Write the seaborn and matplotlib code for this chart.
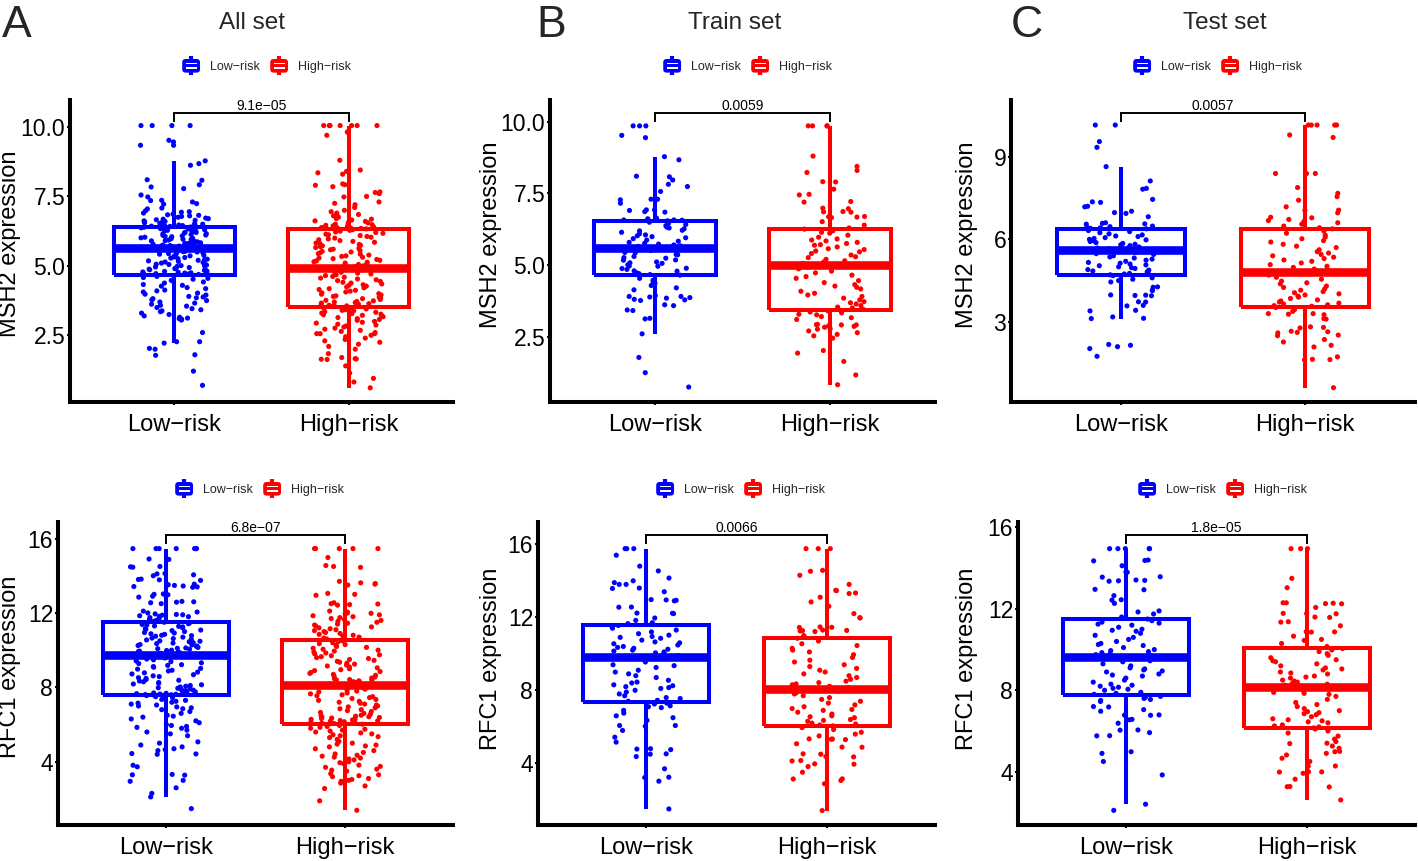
import numpy as np
import pandas as pd
import matplotlib
matplotlib.use("Agg")
import matplotlib.pyplot as plt
import seaborn as sns
from matplotlib.legend_handler import HandlerBase
from matplotlib.patches import Patch, Rectangle, FancyBboxPatch
from matplotlib.lines import Line2D

# ---- data ----
groups = ["Low\u2212risk", "High\u2212risk"]
colors = ["#0000FF", "#FF0000"]
set_titles = ["All set", "Train set", "Test set"]
panel_letters = ["A", "B", "C"]
genes = ["MSH2", "RFC1"]
msh2_pvalues = ["9.1e\u221205", "0.0059", "0.0057"]
rfc1_pvalues = ["6.8e\u221207", "0.0066", "1.8e\u221205"]
msh2_ticks = [[2.5, 5.0, 7.5, 10.0], [2.5, 5.0, 7.5, 10.0], [3, 6, 9]]
msh2_ticklabels = [["2.5", "5.0", "7.5", "10.0"], ["2.5", "5.0", "7.5", "10.0"], ["3", "6", "9"]]
rfc1_ticks = [4, 8, 12, 16]
rfc1_ticklabels = ["4", "8", "12", "16"]

all_msh2_low = [
    10.05, 10.05, 10.05, 10.05, 9.52, 9.46, 9.34, 9.34, 8.78, 8.68, 8.62, 8.1, 8.08, 7.92, 7.84, 7.78, 7.55, 7.48,
    7.36, 7.35, 7.3, 7.24, 7.22, 7.08, 7.05, 6.98, 6.95, 6.93, 6.9, 6.86, 6.84, 6.82, 6.8, 6.78, 6.75, 6.72, 6.7,
    6.68, 6.66, 6.64, 6.62, 6.6, 6.58, 6.56, 6.55, 6.53, 6.52, 6.5, 6.48, 6.47, 6.45, 6.44, 6.43, 6.42,
    6.4, 6.39, 6.37, 6.36, 6.34, 6.33, 6.31, 6.3, 6.28, 6.26, 6.25, 6.23, 6.21, 6.2, 6.18, 6.16, 6.15, 6.13, 6.11,
    6.1, 6.08, 6.06, 6.05, 6.03, 6.01, 6.0, 5.98, 5.96, 5.95, 5.93, 5.91, 5.9, 5.88, 5.86, 5.85, 5.83, 5.81, 5.8,
    5.78, 5.76, 5.75, 5.73, 5.72, 5.71, 5.7, 5.69, 5.68, 5.67, 5.66, 5.66, 5.65, 5.64, 5.63, 5.63,
    5.62, 5.6, 5.58, 5.56, 5.55, 5.53, 5.51, 5.5, 5.48, 5.46, 5.44, 5.42, 5.4, 5.38, 5.36, 5.34, 5.32, 5.3, 5.28,
    5.26, 5.24, 5.22, 5.2, 5.18, 5.16, 5.14, 5.12, 5.1, 5.08, 5.06, 5.05, 5.03, 5.01, 5.0, 4.98, 4.96, 4.94, 4.92,
    4.9, 4.88, 4.86, 4.84, 4.83, 4.81, 4.8, 4.78, 4.77, 4.75, 4.74, 4.73, 4.72, 4.71, 4.7, 4.69,
    4.67, 4.62, 4.58, 4.55, 4.52, 4.48, 4.45, 4.42, 4.38, 4.33, 4.3, 4.27, 4.22, 4.18, 4.13, 4.1, 4.06, 4.02, 3.98,
    3.95, 3.9, 3.88, 3.85, 3.82, 3.78, 3.75, 3.7, 3.66, 3.62, 3.58, 3.55, 3.5, 3.46, 3.42, 3.38, 3.35, 3.3, 3.25,
    3.2, 3.15, 3.12, 3.1, 3.08, 3.05, 2.6, 2.27, 2.27, 2.22, 2.03, 2.0, 1.8, 1.78, 1.21, 0.7,
]
all_msh2_high = [
    10.05, 10.05, 10.05, 10.05, 10.05, 10.05, 10.05, 9.82, 9.8, 9.7, 8.8, 8.45, 8.4, 8.35, 8.3, 7.95, 7.92, 7.9,
    7.85, 7.66, 7.64, 7.6, 7.5, 7.48, 7.3, 7.25, 7.2, 7.1, 7.0, 6.95, 6.9, 6.85, 6.8, 6.78, 6.75, 6.7, 6.68, 6.65,
    6.62, 6.6, 6.58, 6.55, 6.52, 6.5, 6.48, 6.46, 6.44, 6.42, 6.4, 6.38, 6.37, 6.36, 6.35, 6.35,
    6.33, 6.3, 6.28, 6.25, 6.22, 6.2, 6.17, 6.14, 6.12, 6.09, 6.06, 6.03, 6.0, 5.97, 5.94, 5.91, 5.88, 5.85, 5.82,
    5.8, 5.77, 5.74, 5.72, 5.69, 5.66, 5.63, 5.6, 5.58, 5.55, 5.52, 5.5, 5.47, 5.44, 5.42, 5.39, 5.36, 5.34, 5.31,
    5.28, 5.26, 5.23, 5.2, 5.18, 5.15, 5.13, 5.1, 5.08, 5.05, 5.03, 5.0, 4.98, 4.96, 4.94, 4.92,
    4.9, 4.87, 4.85, 4.82, 4.8, 4.77, 4.74, 4.71, 4.68, 4.65, 4.62, 4.59, 4.56, 4.53, 4.5, 4.47, 4.44, 4.41, 4.38,
    4.35, 4.32, 4.3, 4.27, 4.24, 4.21, 4.18, 4.15, 4.12, 4.09, 4.06, 4.03, 4.0, 3.98, 3.95, 3.92, 3.9, 3.87, 3.84,
    3.82, 3.79, 3.76, 3.74, 3.72, 3.7, 3.68, 3.66, 3.64, 3.62, 3.6, 3.58, 3.57, 3.56, 3.55, 3.53,
    3.5, 3.48, 3.45, 3.42, 3.4, 3.38, 3.35, 3.33, 3.3, 3.28, 3.26, 3.24, 3.22, 3.2, 3.17, 3.14, 3.1, 3.07, 3.04,
    3.0, 2.97, 2.94, 2.9, 2.87, 2.84, 2.8, 2.76, 2.72, 2.68, 2.64, 2.6, 2.56, 2.56, 2.56, 2.5, 2.45, 2.4, 2.35,
    2.3, 2.25, 2.18, 2.1, 2.0, 1.84, 1.7, 1.66, 1.65, 1.64, 1.63, 1.4, 1.14, 0.95, 0.82, 0.61,
]
train_msh2_low = [
    9.85, 9.85, 9.85, 9.52, 9.44, 8.78, 8.67, 8.1, 8.08, 7.97, 7.82, 7.74, 7.57, 7.3, 7.3, 7.28, 7.16, 6.93, 6.93,
    6.91, 6.87, 6.85, 6.64, 6.62, 6.58, 6.58, 6.57,
    6.55, 6.5, 6.46, 6.42, 6.38, 6.33, 6.3, 6.27, 6.22, 6.2, 6.15, 6.1, 6.06, 6.03, 6.0, 5.96, 5.93, 5.88, 5.84,
    5.8, 5.77, 5.74, 5.71, 5.68, 5.66, 5.63, 5.61,
    5.6, 5.58, 5.52, 5.51, 5.45, 5.44, 5.38, 5.37, 5.31, 5.27, 5.25, 5.19, 5.18, 5.12, 5.09, 5.07, 5.02, 4.98,
    4.97, 4.9, 4.89, 4.86, 4.81, 4.8, 4.74, 4.71, 4.68,
    4.66, 4.55, 4.48, 4.42, 4.38, 4.3, 4.22, 4.15, 3.95, 3.92, 3.92, 3.9, 3.88, 3.86, 3.82, 3.8, 3.78, 3.63, 3.6,
    3.45, 3.43, 3.16, 3.14, 2.62, 1.8, 1.27, 0.77,
]
train_msh2_high = [
    9.85, 9.85, 9.85, 9.85, 8.8, 8.44, 8.3, 8.23, 7.91, 7.9, 7.65, 7.47, 7.45, 7.22, 7.2, 6.99, 6.97, 6.87, 6.86,
    6.85, 6.7, 6.69, 6.68, 6.66, 6.52, 6.4, 6.3,
    6.26, 6.2, 6.15, 6.12, 6.05, 5.98, 5.92, 5.88, 5.85, 5.8, 5.76, 5.72, 5.7, 5.64, 5.58, 5.55, 5.5, 5.47, 5.41,
    5.36, 5.3, 5.27, 5.21, 5.16, 5.12, 5.07, 5.02,
    5.0, 4.95, 4.88, 4.8, 4.74, 4.66, 4.61, 4.55, 4.47, 4.4, 4.33, 4.28, 4.24, 4.18, 4.1, 4.03, 3.97, 3.92, 3.86,
    3.8, 3.74, 3.7, 3.66, 3.6, 3.55, 3.52, 3.47,
    3.42, 3.38, 3.35, 3.3, 3.28, 3.22, 3.18, 3.12, 2.95, 2.94, 2.93, 2.93, 2.9, 2.88, 2.85, 2.8, 2.78, 2.72, 2.66,
    2.6, 2.55, 2.47, 2.04, 1.95, 1.66, 1.19, 0.85,
]
test_msh2_low = [
    10.15, 10.15, 9.55, 9.34, 8.64, 8.12, 7.85, 7.82, 7.45, 7.36, 7.34, 7.2, 7.18, 7.02, 6.97, 6.94, 6.82, 6.6,
    6.58, 6.56, 6.55, 6.48, 6.46, 6.44, 6.42, 6.4, 6.38,
    6.35, 6.32, 6.28, 6.24, 6.2, 6.16, 6.12, 6.1, 6.06, 6.03, 6.0, 5.98, 5.95, 5.92, 5.88, 5.85, 5.82, 5.8, 5.77,
    5.74, 5.72, 5.7, 5.68, 5.66, 5.64, 5.62, 5.61,
    5.6, 5.56, 5.52, 5.48, 5.45, 5.4, 5.36, 5.32, 5.28, 5.24, 5.2, 5.16, 5.13, 5.1, 5.07, 5.04, 5.0, 4.97, 4.94,
    4.9, 4.88, 4.85, 4.82, 4.78, 4.76, 4.74, 4.71,
    4.68, 4.6, 4.55, 4.5, 4.45, 4.27, 4.26, 4.15, 4.14, 3.98, 3.97, 3.96, 3.95, 3.73, 3.72, 3.6, 3.58, 3.42, 3.4,
    3.18, 3.13, 3.12, 2.18, 2.15, 2.1, 2.03, 1.75,
]
test_msh2_high = [
    10.15, 10.15, 10.15, 10.15, 10.15, 9.79, 9.7, 8.39, 8.39, 8.39, 7.88, 7.67, 7.55, 7.42, 7.18, 7.06, 7.05,
    6.96, 6.8, 6.78, 6.72, 6.68, 6.65, 6.6, 6.55, 6.48, 6.42,
    6.38, 6.3, 6.22, 6.15, 6.08, 6.02, 5.95, 5.9, 5.82, 5.75, 5.7, 5.62, 5.55, 5.5, 5.45, 5.4, 5.35, 5.3, 5.25,
    5.2, 5.14, 5.08, 5.02, 4.98, 4.92, 4.88, 4.84,
    4.82, 4.76, 4.7, 4.62, 4.55, 4.48, 4.42, 4.38, 4.3, 4.25, 4.2, 4.15, 4.1, 4.06, 4.02, 3.98, 3.94, 3.9, 3.85,
    3.8, 3.76, 3.72, 3.68, 3.65, 3.62, 3.59, 3.57,
    3.52, 3.45, 3.38, 3.3, 3.3, 3.28, 3.26, 3.12, 3.1, 2.82, 2.8, 2.78, 2.66, 2.64, 2.62, 2.6, 2.52, 2.5, 2.36,
    2.27, 2.15, 2.09, 1.73, 1.64, 1.63, 1.62, 0.61,
]
all_rfc1_low = [
    15.46, 15.46, 15.46, 15.46, 15.46, 15.46, 15.46, 14.9, 14.88, 14.5, 14.48, 14.46, 14.12, 14.1, 14.05, 14.0,
    13.82, 13.8, 13.78, 13.75, 13.55, 13.52, 13.5, 13.48, 13.45, 13.42, 13.4, 13.38, 13.02, 13.0, 12.98, 12.95,
    12.9, 12.85, 12.62, 12.6, 12.58, 12.55, 12.5, 12.1, 12.05, 12.0, 11.95, 11.92, 11.9, 11.88, 11.85, 11.82,
    11.8, 11.75, 11.7, 11.65, 11.6, 11.55,
    11.5, 11.45, 11.42, 11.38, 11.35, 11.3, 11.28, 11.25, 11.2, 11.15, 11.12, 11.08, 11.05, 11.0, 10.95, 10.92,
    10.88, 10.85, 10.8, 10.78, 10.75, 10.7, 10.65, 10.62, 10.58, 10.55, 10.5, 10.48, 10.45, 10.4, 10.38, 10.35,
    10.3, 10.28, 10.25, 10.22, 10.2, 10.15, 10.12, 10.1, 10.08, 10.05, 10.0, 9.98, 9.95, 9.92, 9.9, 9.88, 9.85,
    9.83, 9.8, 9.78, 9.76, 9.74,
    9.72, 9.68, 9.62, 9.58, 9.52, 9.48, 9.42, 9.38, 9.32, 9.28, 9.22, 9.18, 9.12, 9.08, 9.02, 8.98, 8.92, 8.88,
    8.82, 8.78, 8.72, 8.68, 8.62, 8.58, 8.52, 8.48, 8.42, 8.38, 8.34, 8.3, 8.26, 8.22, 8.18, 8.14, 8.1, 8.06,
    8.02, 7.98, 7.95, 7.92, 7.88, 7.85, 7.82, 7.79, 7.76, 7.73, 7.7, 7.68, 7.66, 7.64, 7.63, 7.61, 7.6, 7.59,
    7.56, 7.5, 7.45, 7.4, 7.35, 7.3, 7.25, 7.2, 7.15, 7.1, 7.05, 7.0, 6.95, 6.9, 6.85, 6.8, 6.7, 6.6, 6.5, 6.45,
    6.4, 6.3, 6.2, 6.1, 6.0, 5.95, 5.9, 5.85, 5.8, 5.7, 5.6, 5.5, 5.4, 5.07, 5.0, 4.9, 4.8, 4.7, 4.65, 4.6, 4.44,
    4.42, 4.4, 3.81, 3.73, 3.32, 3.3, 3.28, 3.0, 2.95, 2.6, 2.3, 2.11, 1.48,
]
all_rfc1_high = [
    15.46, 15.46, 15.46, 15.46, 15.46, 14.98, 14.55, 14.5, 14.45, 13.7, 13.62, 13.58, 13.55, 13.5, 13.05, 13.0,
    12.95, 12.55, 12.5, 12.48, 12.45, 12.42, 12.1, 12.05, 12.0, 11.98, 11.95, 11.9, 11.85, 11.8, 11.75, 11.7,
    11.65, 11.6, 11.55, 11.5, 11.45, 11.4, 11.35, 11.3, 11.25, 11.2, 11.15, 11.1, 11.05, 11.0, 10.95, 10.9,
    10.85, 10.8, 10.75, 10.7, 10.65, 10.6,
    10.5, 10.45, 10.4, 10.35, 10.3, 10.25, 10.2, 10.15, 10.1, 10.05, 10.0, 9.95, 9.9, 9.85, 9.8, 9.75, 9.7, 9.65,
    9.6, 9.55, 9.5, 9.45, 9.4, 9.35, 9.3, 9.25, 9.2, 9.15, 9.1, 9.05, 9.0, 8.95, 8.9, 8.85, 8.8, 8.75, 8.7, 8.65,
    8.6, 8.55, 8.5, 8.46, 8.42, 8.4, 8.38, 8.35, 8.32, 8.3, 8.28, 8.25, 8.22, 8.18, 8.15, 8.12,
    8.1, 8.08, 8.05, 8.02, 8.0, 7.95, 7.9, 7.85, 7.8, 7.75, 7.7, 7.65, 7.6, 7.55, 7.5, 7.45, 7.4, 7.35, 7.3, 7.25,
    7.2, 7.15, 7.1, 7.05, 7.0, 6.95, 6.9, 6.85, 6.8, 6.75, 6.7, 6.65, 6.6, 6.55, 6.5, 6.48, 6.45, 6.42, 6.4, 6.38,
    6.35, 6.32, 6.3, 6.28, 6.25, 6.22, 6.2, 6.18, 6.15, 6.12, 6.1, 6.08, 6.07, 6.06,
    6.02, 5.95, 5.9, 5.85, 5.8, 5.75, 5.7, 5.65, 5.6, 5.55, 5.5, 5.45, 5.4, 5.35, 5.3, 5.2, 5.1, 5.0, 4.95, 4.9,
    4.85, 4.8, 4.7, 4.6, 4.5, 4.42, 4.35, 4.3, 4.25, 4.2, 4.15, 4.1, 4.0, 3.95, 3.9, 3.82, 3.75, 3.7, 3.6, 3.55,
    3.5, 3.36, 3.3, 3.25, 3.2, 3.1, 3.05, 3.0, 2.95, 2.85, 2.7, 2.56, 1.9, 1.39,
]
train_rfc1_low = [
    15.76, 15.76, 15.76, 15.4, 14.8, 14.54, 14.15, 14.0, 13.9, 13.8, 13.8, 13.6, 13.58, 13.4, 12.97, 12.95, 12.93,
    12.9, 12.56, 12.55, 12.23, 12.22, 12.2, 11.96, 11.83, 11.7, 11.65,
    11.55, 11.5, 11.4, 11.3, 11.2, 11.1, 11.02, 10.95, 10.9, 10.85, 10.75, 10.65, 10.6, 10.55, 10.48, 10.4, 10.35,
    10.3, 10.25, 10.2, 10.15, 10.1, 10.05, 10.0, 9.95, 9.9, 9.85,
    9.8, 9.7, 9.55, 9.4, 9.35, 9.25, 9.1, 9.0, 8.9, 8.8, 8.7, 8.55, 8.45, 8.4, 8.3, 8.25, 8.2, 8.15, 8.1, 8.0,
    7.9, 7.8, 7.7, 7.6, 7.55, 7.45, 7.4,
    7.3, 7.25, 7.15, 7.1, 7.05, 6.9, 6.75, 6.6, 6.5, 6.35, 6.07, 6.07, 6.03, 5.8, 5.43, 5.16, 4.8, 4.78, 4.75,
    4.52, 4.5, 4.37, 3.7, 3.24, 3.22, 3.02, 1.5,
]
train_rfc1_high = [
    15.76, 15.76, 15.76, 14.57, 14.52, 14.3, 13.8, 13.48, 13.46, 13.33, 13.3, 13.1, 12.84, 12.6, 12.2, 11.98,
    11.96, 11.47, 11.45, 11.44, 11.3, 11.28, 11.27, 11.25, 11.22, 11.0, 10.9,
    10.85, 10.7, 10.55, 10.45, 10.3, 10.2, 10.1, 9.95, 9.8, 9.65, 9.55, 9.4, 9.3, 9.2, 9.1, 9.0, 8.9, 8.8, 8.7,
    8.6, 8.5, 8.42, 8.35, 8.3, 8.22, 8.15, 8.1,
    8.05, 8.0, 7.95, 7.85, 7.8, 7.7, 7.6, 7.5, 7.4, 7.3, 7.2, 7.1, 7.0, 6.95, 6.9, 6.8, 6.7, 6.6, 6.55, 6.5, 6.4,
    6.35, 6.3, 6.2, 6.15, 6.1, 6.05,
    5.95, 5.85, 5.7, 5.6, 5.5, 5.34, 5.33, 5.32, 5.3, 5.07, 4.89, 4.88, 4.52, 4.5, 4.37, 4.35, 4.15, 4.13, 3.97,
    3.95, 3.82, 3.51, 3.15, 3.14, 3.06, 2.88, 1.41,
]
test_rfc1_low = [
    14.96, 14.96, 14.96, 14.96, 14.96, 14.4, 14.38, 14.36, 14.12, 13.82, 13.8, 13.58, 13.56, 13.42, 13.4, 13.38,
    13.36, 12.96, 12.94, 12.65, 12.45, 12.43, 12.27, 11.9, 11.85, 11.75, 11.6,
    11.5, 11.42, 11.35, 11.3, 11.25, 11.2, 11.1, 11.0, 10.95, 10.9, 10.8, 10.7, 10.6, 10.5, 10.4, 10.3, 10.25,
    10.2, 10.1, 10.0, 9.95, 9.9, 9.85, 9.8, 9.75, 9.7, 9.65,
    9.6, 9.55, 9.45, 9.4, 9.3, 9.2, 9.1, 9.05, 9.0, 8.95, 8.9, 8.8, 8.75, 8.7, 8.6, 8.5, 8.4, 8.3, 8.25, 8.2,
    8.15, 8.1, 8.05, 8.0, 7.9, 7.85, 7.8,
    7.7, 7.65, 7.6, 7.55, 7.5, 7.45, 7.2, 7.18, 7.05, 6.97, 6.79, 6.78, 6.77, 6.57, 6.55, 6.38, 6.05, 6.04, 5.92,
    5.77, 5.76, 4.98, 4.9, 4.5, 3.84, 2.4, 2.1,
]
test_rfc1_high = [
    14.96, 14.96, 14.96, 13.5, 13.04, 12.3, 12.3, 12.28, 12.26, 12.25, 12.07, 11.78, 11.77, 11.76, 11.6, 11.58,
    11.37, 11.35, 11.17, 10.88, 10.87, 10.86, 10.66, 10.5, 10.45, 10.3, 10.15,
    10.05, 9.98, 9.9, 9.8, 9.72, 9.6, 9.5, 9.45, 9.4, 9.3, 9.2, 9.1, 9.05, 9.0, 8.9, 8.85, 8.8, 8.7, 8.65, 8.6,
    8.5, 8.45, 8.4, 8.35, 8.3, 8.25, 8.2,
    8.15, 8.1, 8.0, 7.9, 7.85, 7.8, 7.7, 7.55, 7.4, 7.3, 7.2, 7.1, 7.0, 6.95, 6.9, 6.85, 6.8, 6.7, 6.6, 6.55, 6.5,
    6.45, 6.4, 6.3, 6.25, 6.2, 6.15,
    6.1, 6.0, 5.9, 5.75, 5.6, 5.48, 5.4, 5.38, 5.26, 5.15, 5.0, 4.98, 4.9, 4.82, 4.66, 4.5, 4.28, 4.27, 4.0,
    3.99, 3.98, 3.92, 3.63, 3.27, 3.26, 3.25, 2.61,
]

# ---- layout (pixels of the 1418x861 figure) ----
W, H = 1418, 861
axes_px = [
    [(70, 100, 453, 402), (550, 100, 935, 402), (1011, 100, 1415, 402)],
    [(58, 522, 453, 825), (538, 522, 935, 825), (1018, 522, 1415, 825)],
]
ylims = [[(0.1, 10.97), (0.25, 10.75), (0.09, 11.06)],
         [(0.6, 16.89), (0.62, 17.22), (1.38, 16.27)]]
ylabel_pos = [[(-49, 0.525), (-48, 0.553), (-33, 0.553)],
              [(-37, 0.523), (-36, 0.549), (-40, 0.549)]]
legend_x = [[266, 747, 1217], [259, 740, 1222]]
legend_y = [66, 489]
title_x = [252, 735, 1225]
letter_x = [2, 536, 1011]


class BoxKey(HandlerBase):
    """ggplot-like boxplot legend key"""
    def create_artists(self, legend, orig_handle, xdescent, ydescent, width, height, fontsize, trans):
        c = orig_handle.get_facecolor()
        x0, y0 = -xdescent, -ydescent
        stub = Line2D([x0 + width / 2] * 2, [y0 - 0.2 * height, y0 + 1.2 * height],
                      color=c, lw=3, transform=trans)
        body = FancyBboxPatch((x0 + 0.04 * width, y0 + 0.0 * height), 0.92 * width, 1.0 * height,
                              boxstyle="round,pad=0,rounding_size=2.5", fc=c, ec="none", transform=trans)
        slit1 = Rectangle((x0 + 0.22 * width, y0 + 0.3 * height), 0.56 * width, 0.08 * height,
                          fc="white", ec="none", transform=trans)
        slit2 = Rectangle((x0 + 0.22 * width, y0 + 0.62 * height), 0.56 * width, 0.08 * height,
                          fc="white", ec="none", transform=trans)
        return [stub, body, slit1, slit2]


def draw_panel(ax, low, high, gene, pval, ticks, ticklabels, ylim, ylab_pos, ax_width):
    df = pd.DataFrame({"group": [groups[0]] * len(low) + [groups[1]] * len(high),
                       "value": list(low) + list(high)})
    pal = dict(zip(groups, colors))
    sns.boxplot(data=df, x="group", y="value", hue="group", order=groups, hue_order=groups,
                palette=pal, saturation=1, fill=False, width=0.7, linewidth=2.9, showfliers=False,
                medianprops={"linewidth": 6.2}, capprops={"visible": False}, legend=False, ax=ax)
    sns.stripplot(data=df, x="group", y="value", hue="group", order=groups, hue_order=groups,
                  palette=pal, jitter=0.2, size=3.7, linewidth=0, legend=False, ax=ax, zorder=3)
    ax.set_xlim(-0.6, 1.6)
    ax.set_ylim(*ylim)
    ax.set_yticks(ticks)
    ax.set_yticklabels(ticklabels)
    ax.set_xlabel("")
    ax.set_ylabel(f"{gene} expression", fontsize=17, color="black")
    ax.yaxis.set_label_coords(ylab_pos[0] / ax_width, ylab_pos[1])
    for s in ["top", "right"]:
        ax.spines[s].set_visible(False)
    for s in ["left", "bottom"]:
        ax.spines[s].set_linewidth(2.9)
        ax.spines[s].set_color("black")
    ax.tick_params(axis="both", bottom=True, left=True, length=2.5, width=1.5, color="black",
                   labelsize=16.5, labelcolor="black")
    ax.tick_params(axis="x", pad=6, labelsize=17)
    ax.tick_params(axis="y", pad=1)
    ax.set_facecolor("white")

    # comparison bracket with p-value
    tr = ax.get_xaxis_transform()
    ax.plot([0, 0, 1, 1], [0.926, 0.956, 0.956, 0.926], transform=tr, color="black", lw=1.4,
            clip_on=False, solid_joinstyle="miter")
    ax.text(0.5, 0.966, pval, transform=tr, ha="center", va="baseline", fontsize=10, color="black")


sns.set_style("ticks")
plt.rcParams["font.family"] = ["Liberation Sans", "DejaVu Sans"]
plt.rcParams["lines.solid_capstyle"] = "butt"
plt.rcParams["lines.solid_joinstyle"] = "miter"
np.random.seed(11)  # jitter positions only

fig = plt.figure(figsize=(W / 100, H / 100), dpi=100)
fig.patch.set_facecolor("white")

panel_data = [
    [(all_msh2_low, all_msh2_high), (train_msh2_low, train_msh2_high), (test_msh2_low, test_msh2_high)],
    [(all_rfc1_low, all_rfc1_high), (train_rfc1_low, train_rfc1_high), (test_rfc1_low, test_rfc1_high)],
]

for r in range(2):
    for c in range(3):
        l, t, rr, b = axes_px[r][c]
        ax = fig.add_axes([l / W, 1 - b / H, (rr - l) / W, (b - t) / H])
        low, high = panel_data[r][c]
        if r == 0:
            draw_panel(ax, low, high, genes[0], msh2_pvalues[c], msh2_ticks[c], msh2_ticklabels[c],
                       ylims[r][c], ylabel_pos[r][c], rr - l)
        else:
            draw_panel(ax, low, high, genes[1], rfc1_pvalues[c], rfc1_ticks, rfc1_ticklabels,
                       ylims[r][c], ylabel_pos[r][c], rr - l)
        handles = [Patch(facecolor=col) for col in colors]
        fig.legend(handles, groups, loc="center", bbox_to_anchor=(legend_x[r][c] / W, 1 - legend_y[r] / H),
                   ncol=2, frameon=False, fontsize=9, handler_map={Patch: BoxKey()},
                   handlelength=1.55, handleheight=1.3, handletextpad=0.7, columnspacing=0.8)

for c in range(3):
    fig.text(title_x[c] / W, 1 - 29 / H, set_titles[c], ha="center", va="baseline", fontsize=17.5)
    fig.text(letter_x[c] / W, 1 - 37 / H, panel_letters[c], ha="left", va="baseline", fontsize=32)

fig.savefig("out.png", dpi=100)
